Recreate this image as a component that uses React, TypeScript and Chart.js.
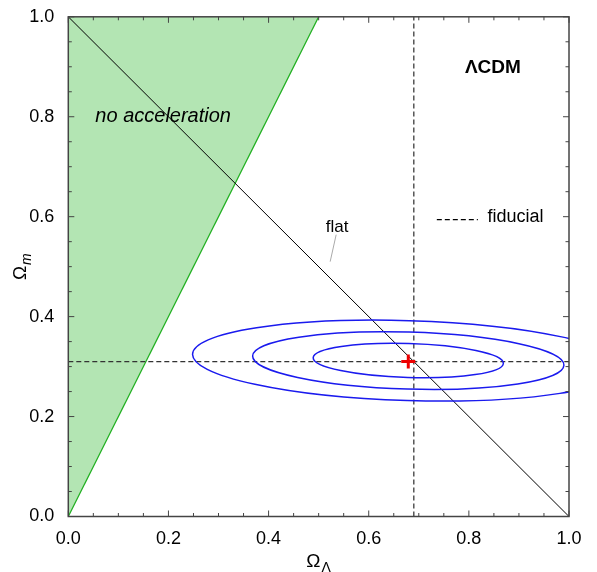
import { useEffect, useRef } from "react";
import { Chart, registerables } from "chart.js";

Chart.register(...registerables);

const FONT = '"Liberation Sans", Arial, Helvetica, sans-serif';

// axis setup
const axisMin = 0;
const axisMax = 1;
const majorStep = 0.2;
const minorStep = 0.05;

// no-acceleration boundary (Omega_Lambda = Omega_m / 2)
const noAccelX = [0, 0.5];
const noAccelY = [0, 1];

// flat universe line
const flatX = [0, 1];
const flatY = [1, 0];

// fiducial values
const fiducialOmegaL = 0.69;
const fiducialOmegaM = 0.31;

// best fit marker
const bestFitX = 0.679;
const bestFitY = 0.31;

// contour ellipses (center, semi-axes)
const contourCenterX = 0.679;
const contourCenterY = 0.312;
const contourSemiX = [0.19, 0.311, 0.431];
const contourSemiY = [0.034, 0.057, 0.08];
const contourTiltDeg = 1.7;

// "flat" label pointer
const flatPointerX = [0.535, 0.523];
const flatPointerY = [0.564, 0.51];

// legend sample line
const legendLineX = [0.736, 0.818];
const legendLineY = 0.594;

// text annotations
const annoTexts = ["no acceleration", "ΛCDM", "flat", "fiducial"];
const annoX = [0.054, 0.848, 0.537, 0.837];
const annoY = [0.8, 0.898, 0.578, 0.6];

const pts = (xs: number[], ys: number[]) => xs.map((x, i) => ({ x, y: ys[i] }));

export default function App() {
  const ref = useRef<HTMLCanvasElement | null>(null);

  useEffect(() => {
    if (!ref.current) return;

    const overlayPlugin = {
      id: "overlay",
      afterDatasetsDraw(chart: any) {
        const { ctx, chartArea, scales } = chart;
        const xs = scales.x;
        const ys = scales.y;
        // ellipses
        ctx.save();
        ctx.beginPath();
        ctx.rect(chartArea.left, chartArea.top, chartArea.right - chartArea.left, chartArea.bottom - chartArea.top);
        ctx.clip();
        ctx.strokeStyle = "#1a1aee";
        ctx.lineWidth = 1.5;
        const cx = xs.getPixelForValue(contourCenterX);
        const cy = ys.getPixelForValue(contourCenterY);
        for (let i = 0; i < contourSemiX.length; i++) {
          const rx = xs.getPixelForValue(contourCenterX + contourSemiX[i]) - cx;
          const ry = cy - ys.getPixelForValue(contourCenterY + contourSemiY[i]);
          ctx.beginPath();
          ctx.ellipse(cx, cy, rx, ry, (contourTiltDeg * Math.PI) / 180, 0, Math.PI * 2);
          ctx.stroke();
        }
        ctx.restore();

        // text annotations
        ctx.save();
        ctx.fillStyle = "#000";
        ctx.textBaseline = "middle";
        ctx.font = `italic 20px ${FONT}`;
        ctx.textAlign = "left";
        ctx.fillText(annoTexts[0], xs.getPixelForValue(annoX[0]), ys.getPixelForValue(annoY[0]));
        ctx.font = `bold 19px ${FONT}`;
        ctx.textAlign = "center";
        ctx.fillText(annoTexts[1], xs.getPixelForValue(annoX[1]), ys.getPixelForValue(annoY[1]));
        ctx.font = `17px ${FONT}`;
        ctx.textAlign = "center";
        ctx.fillText(annoTexts[2], xs.getPixelForValue(annoX[2]), ys.getPixelForValue(annoY[2]));
        ctx.font = `18px ${FONT}`;
        ctx.textAlign = "left";
        ctx.fillText(annoTexts[3], xs.getPixelForValue(annoX[3]), ys.getPixelForValue(annoY[3]));
        ctx.restore();
      },
      afterDraw(chart: any) {
        const { ctx, chartArea, scales } = chart;
        const { left, right, top, bottom } = chartArea;
        const xs = scales.x;
        const ys = scales.y;
        ctx.save();
        ctx.strokeStyle = "#444";
        ctx.lineWidth = 1;
        const n = Math.round((axisMax - axisMin) / minorStep);
        for (let i = 0; i <= n; i++) {
          const v = axisMin + i * minorStep;
          const major = i % Math.round(majorStep / minorStep) === 0;
          const len = major ? 6 : 3.5;
          const px = xs.getPixelForValue(v);
          const py = ys.getPixelForValue(v);
          ctx.beginPath();
          ctx.moveTo(px, bottom);
          ctx.lineTo(px, bottom - len);
          ctx.moveTo(px, top);
          ctx.lineTo(px, top + len);
          ctx.moveTo(left, py);
          ctx.lineTo(left + len, py);
          ctx.moveTo(right, py);
          ctx.lineTo(right - len, py);
          ctx.stroke();
        }
        ctx.lineWidth = 1.5;
        ctx.strokeRect(left, top, right - left, bottom - top);
        ctx.restore();

        // axis titles
        ctx.save();
        ctx.fillStyle = "#000";
        ctx.textBaseline = "alphabetic";
        const mainFont = `19px ${FONT}`;
        const subFont = `14px ${FONT}`;
        ctx.font = mainFont;
        const wO = ctx.measureText("Ω").width;
        ctx.font = subFont;
        const wL = ctx.measureText("Λ").width;
        const xc = (left + right) / 2;
        const xStart = xc - (wO + wL + 1) / 2;
        const baseX = bottom + 50;
        ctx.font = mainFont;
        ctx.textAlign = "left";
        ctx.fillText("Ω", xStart, baseX);
        ctx.font = subFont;
        ctx.fillText("Λ", xStart + wO + 1, baseX + 5);
        ctx.translate(left - 42, (top + bottom) / 2);
        ctx.rotate(-Math.PI / 2);
        ctx.font = mainFont;
        const wO2 = ctx.measureText("Ω").width;
        ctx.font = `italic 14px ${FONT}`;
        const wm = ctx.measureText("m").width;
        const ys0 = -(wO2 + wm + 1) / 2;
        ctx.font = mainFont;
        ctx.fillText("Ω", ys0, 0);
        ctx.font = `italic 14px ${FONT}`;
        ctx.fillText("m", ys0 + wO2 + 1, 5);
        ctx.restore();
      },
    };

    const tickFont = { family: FONT, size: 18 };

    const chart = new Chart(ref.current, {
      type: "line",
      data: {
        datasets: [
          {
            data: pts(noAccelX, noAccelY),
            borderColor: "#22b022",
            borderWidth: 1.3,
            backgroundColor: "#b3e5b3",
            fill: "end",
            pointRadius: 0,
            order: 10,
          },
          {
            data: pts(flatX, flatY),
            borderColor: "#000",
            borderWidth: 1,
            pointRadius: 0,
            fill: false,
            order: 2,
          },
          {
            data: pts([fiducialOmegaL, fiducialOmegaL], [axisMin, axisMax]),
            borderColor: "#555",
            borderWidth: 1.5,
            borderDash: [5, 3],
            pointRadius: 0,
            fill: false,
            order: 3,
          },
          {
            data: pts([axisMin, axisMax], [fiducialOmegaM, fiducialOmegaM]),
            borderColor: "#333",
            borderWidth: 1.2,
            borderDash: [5, 3],
            pointRadius: 0,
            fill: false,
            order: 3,
          },
          {
            data: pts(flatPointerX, flatPointerY),
            borderColor: "#aaa",
            borderWidth: 1,
            pointRadius: 0,
            fill: false,
            order: 3,
          },
          {
            data: pts(legendLineX, [legendLineY, legendLineY]),
            borderColor: "#000",
            borderWidth: 1.2,
            borderDash: [5, 3],
            pointRadius: 0,
            fill: false,
            order: 3,
          },
          {
            data: [{ x: bestFitX, y: bestFitY }],
            showLine: false,
            pointStyle: "cross",
            pointRadius: 7,
            pointBorderWidth: 3,
            pointBorderColor: "#ee0000",
            borderColor: "#ee0000",
            fill: false,
            order: 0,
          },
        ],
      },
      options: {
        animation: false,
        responsive: false,
        layout: { padding: { top: 15.5, right: 28, left: 0, bottom: 0 } },
        plugins: {
          legend: { display: false },
          tooltip: { enabled: false },
          filler: { drawTime: "beforeDatasetsDraw" },
        },
        scales: {
          x: {
            type: "linear",
            min: axisMin,
            max: axisMax,
            grid: { display: false },
            border: { display: false },
            ticks: {
              stepSize: majorStep,
              autoSkip: false,
              maxRotation: 0,
              padding: 4,
              color: "#000",
              font: tickFont,
              callback: (v: any) => Number(v).toFixed(1),
            },
            afterFit: (s: any) => {
              s.height = 55.5;
            },
          },
          y: {
            type: "linear",
            min: axisMin,
            max: axisMax,
            grid: { display: false },
            border: { display: false },
            ticks: {
              stepSize: majorStep,
              autoSkip: false,
              padding: 6,
              color: "#000",
              font: tickFont,
              callback: (v: any) => Number(v).toFixed(1),
            },
            afterFit: (s: any) => {
              s.width = 68.3;
            },
          },
        },
      },
      plugins: [overlayPlugin],
    } as any);

    return () => chart.destroy();
  }, []);

  return (
    <div style={{ position: "fixed", left: 0, top: 0, width: 597, height: 572, background: "#fff" }}>
      <canvas ref={ref} width={597} height={572} style={{ display: "block" }} />
    </div>
  );
}
